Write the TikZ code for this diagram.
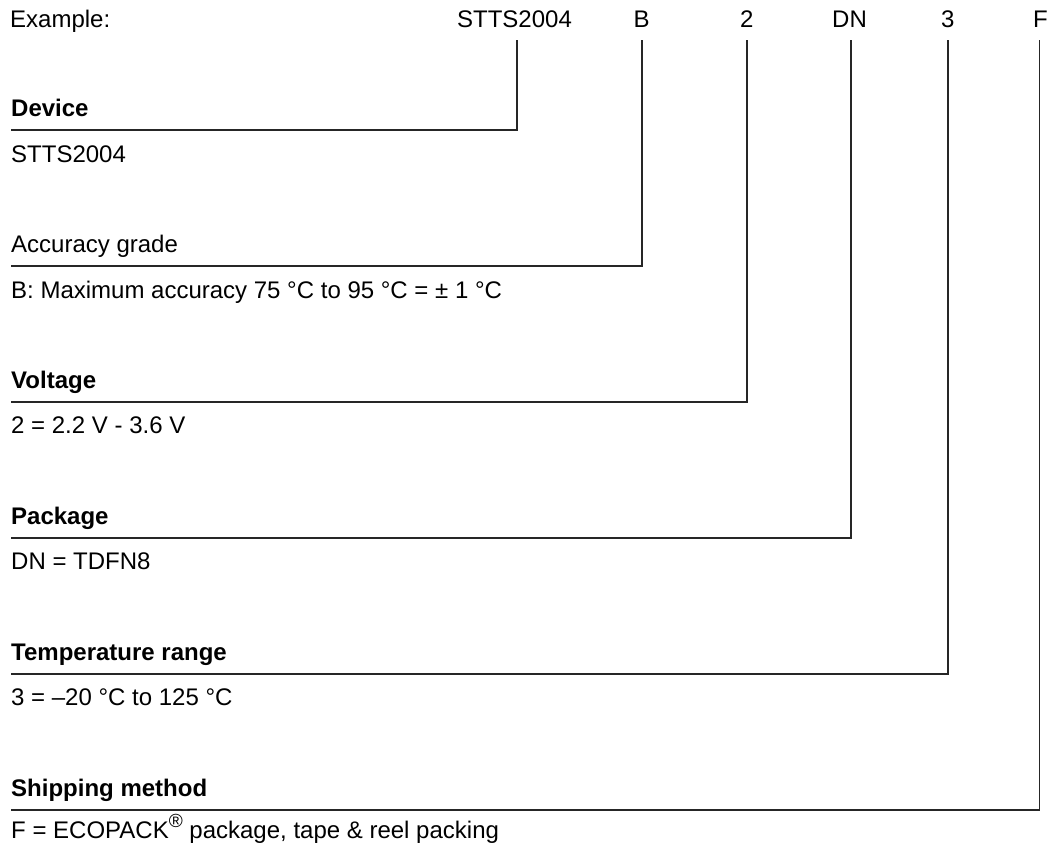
\documentclass[tikz,border=0pt]{standalone}
\usepackage{fontspec}
\setmainfont{Liberation Sans}
\begin{document}
\begin{tikzpicture}[x=1pt,y=-1pt,
  every node/.style={inner sep=0pt, font=\fontsize{24}{29}\selectfont},
  hdr/.style={anchor=base},
  ttl/.style={anchor=base west, font=\fontsize{24}{29}\selectfont\bfseries},
  dsc/.style={anchor=base west},
  lead/.style={line width=1.2pt, draw=black!85}]
\useasboundingbox (0,0) rectangle (1052,852);

% header
\node[dsc] (ex) at (10,27) {Example:};
\node[hdr] (hA) at (514.5,27) {STTS2004};
\node[hdr] (hB) at (641.5,27) {B};
\node[hdr] (hC) at (746.7,27) {2};
\node[hdr] (hD) at (849.5,27) {DN};
\node[hdr] (hE) at (947.7,27) {3};
\node[hdr] (hF) at (1040.5,27) {F};

% line tops and left ends
\coordinate (tA) at (517,40);   \coordinate (eA) at (11,130);
\coordinate (tB) at (642,40);   \coordinate (eB) at (11,266);
\coordinate (tC) at (747,40);   \coordinate (eC) at (11,402);
\coordinate (tD) at (851,40);   \coordinate (eD) at (11,538);
\coordinate (tE) at (948,40);   \coordinate (eE) at (11,674);
\coordinate (tF) at (1039.5,40);\coordinate (eF) at (11,810);

\draw[lead] (tA) |- (eA);
\draw[lead] (tB) |- (eB);
\draw[lead] (tC) |- (eC);
\draw[lead] (tD) |- (eD);
\draw[lead] (tE) |- (eE);
\draw[lead] (tF) |- (eF);

% titles
\node[ttl] (nA) at (11,116.5) {Device};
\node[dsc] (nB) at (11,252.5) {Accuracy grade};
\node[ttl] (nC) at (11,388.5) {Voltage};
\node[ttl] (nD) at (11,524.5) {Package};
\node[ttl] (nE) at (11,660.5) {Temperature range};
\node[ttl] (nF) at (11,796.5) {Shipping method};

% descriptions
\node[dsc] (dA) at (11,162.5) {STTS2004};
\node[dsc] (dB) at (11,298) {B: Maximum accuracy 75 °C to 95 °C = ± 1 °C};
\node[dsc] (dC) at (11,433.5) {2 = 2.2 V - 3.6 V};
\node[dsc] (dD) at (11,569.5) {DN = TDFN8};
\node[dsc] (dE) at (11,705.5) {3 = –20 °C to 125 °C};
\node[dsc] (dF) at (11,838) {F = ECOPACK\raisebox{0.42em}{\fontsize{19}{20}\selectfont ®} package, tape \& reel packing};
\end{tikzpicture}
\end{document}
